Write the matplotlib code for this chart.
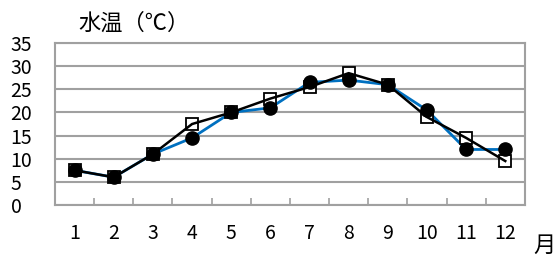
import matplotlib.pyplot as plt

plt.rcParams['font.family'] = ['Noto Sans CJK JP', 'DejaVu Sans']

months = ['1', '2', '3', '4', '5', '6', '7', '8', '9', '10', '11', '12']
circle_vals = [7.5, 6, 11, 14.5, 20, 21, 26.5, 27, 26, 20.5, 12, 12]
square_vals = [7.5, 6, 11, 17.5, 20, 23, 25.5, 28.5, 26, 19, 14.5, 9.5]
yticks = [0, 5, 10, 15, 20, 25, 30, 35]

fig = plt.figure(figsize=(5.58, 2.61), dpi=100)
ax = fig.add_axes([0.0986, 0.2146, 0.842, 0.6204])

x = list(range(len(months)))
ax.plot(x, circle_vals, color='#0070C0', lw=2, zorder=2)
ax.plot(x, square_vals, ls='none', marker='s', ms=9, mfc='white',
        mec='black', mew=1.3, zorder=3)
ax.plot(x, square_vals, color='black', lw=1.8, zorder=4)
ax.plot(x, circle_vals, ls='none', marker='o', ms=9.5, color='black', zorder=5)

ax.set_xlim(-0.5, len(months) - 0.5)
ax.set_ylim(0, 35)
ax.set_yticks(yticks)
ax.set_yticklabels([str(v) for v in yticks], fontsize=14)
ax.tick_params(axis='y', length=0, pad=32)
ax.set_xticks(x)
ax.set_xticklabels(months, fontsize=14)
ax.tick_params(axis='x', which='major', length=0, pad=13)
ax.set_xticks([i + 0.5 for i in x], minor=True)
ax.tick_params(axis='x', which='minor', direction='in', length=5,
               width=1.2, color='#a0a0a0')
for lbl in ax.get_yticklabels():
    lbl.set_horizontalalignment('left')

ax.grid(axis='y', color='#a0a0a0', lw=1.5)
ax.set_axisbelow(True)
for s in ax.spines.values():
    s.set_color('#a0a0a0')
    s.set_linewidth(1.5)

fig.text(0.14, 0.91, '水温（℃）', fontsize=16, va='center')
fig.text(0.955, 0.06, '月', fontsize=16, va='center')

fig.savefig('out.png', dpi=100)
